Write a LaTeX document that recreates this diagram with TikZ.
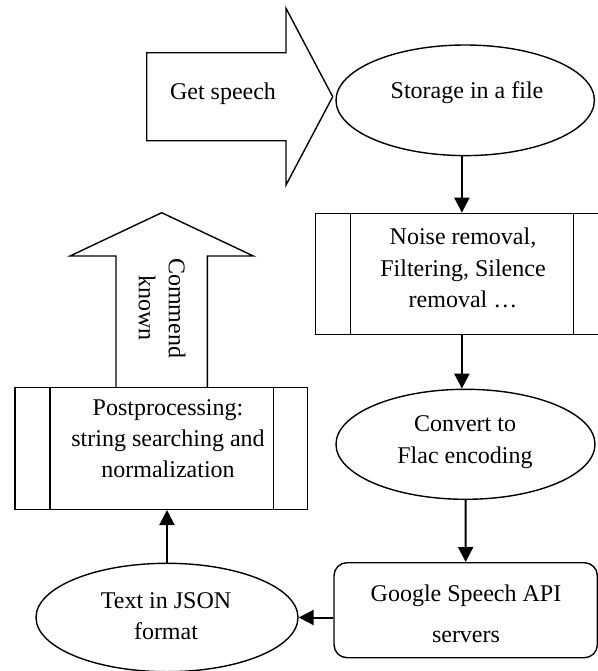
\documentclass[tikz,border=0pt]{standalone}
\usepackage{fontspec}
\setmainfont{Liberation Serif}
\usepackage{tikz}
\usetikzlibrary{shapes.geometric, arrows.meta}

\begin{document}
\begin{tikzpicture}[x=0.5pt, y=-0.5pt,
	ellipsenode/.style={ellipse, draw=black, line width=0.7pt, inner sep=0pt},
	procnode/.style={rectangle, draw=black, line width=0.7pt, inner sep=0pt},
	roundboxnode/.style={rectangle, rounded corners=6.5pt, draw=black, line width=0.7pt, inner sep=0pt},
	textnode/.style={align=center, font=\fontsize{12}{15.7}\selectfont, inner sep=0pt},
	bigarrow/.style={draw=black, line width=0.7pt, line join=miter},
	flowarrow/.style={line width=1pt, -{Triangle[length=7.5pt, width=7.5pt]}},
	]
	\useasboundingbox (0,0) rectangle (598,671);
	% Nodes
	\node[ellipsenode, minimum width=129.2pt, minimum height=55.3pt]		(storage_file)		at (465.2, 100.3)	{};
	\node[procnode, minimum width=146.2pt, minimum height=60.7pt]			(noise_box)			at (461.9, 274)		{};
	\node[ellipsenode, minimum width=129.5pt, minimum height=55pt]			(convert_flac)		at (465.5, 444.3)	{};
	\node[roundboxnode, minimum width=131.7pt, minimum height=47.5pt]		(google_api)		at (465.7, 610.2)	{};
	\node[ellipsenode, minimum width=131pt, minimum height=54.2pt]			(json_text)			at (167, 617.5)		{};
	\node[procnode, minimum width=146.3pt, minimum height=61pt]			(post_box)			at (161.4, 448.3)	{};

	% Texts
	\node[textnode]					(get_speech_txt)	at (223, 94)		{Get speech};
	\node[textnode]					(storage_txt)		at (467, 93)		{Storage in a file};
	\node[textnode]					(noise_txt)			at (463, 268)		{Noise removal,\\Filtering, Silence\\removal …};
	\node[textnode]					(convert_txt)		at (465, 442)		{Convert to\\Flac encoding};
	\node[textnode]					(google_txt)		at (466, 613.5)		{Google Speech API\\[5pt]servers};
	\node[textnode]					(json_txt)			at (166, 616)		{Text in JSON\\format};
	\node[textnode]					(post_txt)			at (168, 438.7)		{Postprocessing:\\string searching and\\normalization};
	\node[textnode, rotate=-90, font=\fontsize{12}{15}\selectfont]	(commend_txt)	at (162, 308)	{Commend\\known};

	% Block arrows
	\draw[bigarrow] (146.7, 52.7) -- (286, 52.7) -- (286, 8.3) -- (332.7, 96.7) -- (286, 185) -- (286, 140.7) -- (146.7, 140.7) -- cycle;
	\draw[bigarrow] (116, 387.3) -- (116, 256) -- (70, 256) -- (161.7, 212.7) -- (253.3, 256) -- (207.3, 256) -- (207.3, 387.3);

	% Inner lines of the process boxes
	\draw[line width=0.7pt] ([xshift=17.6pt]noise_box.north west) -- ([xshift=17.6pt]noise_box.south west);
	\draw[line width=0.7pt] ([xshift=-17.6pt]noise_box.north east) -- ([xshift=-17.6pt]noise_box.south east);
	\draw[line width=0.7pt] ([xshift=17.7pt]post_box.north west) -- ([xshift=17.7pt]post_box.south west);
	\draw[line width=0.7pt] ([xshift=-17.5pt]post_box.north east) -- ([xshift=-17.5pt]post_box.south east);

	% Lines
	\draw[flowarrow] (noise_box.north |- storage_file.south)	--	(noise_box.north);
	\draw[flowarrow] (noise_box.south)						--	(noise_box.south |- convert_flac.north);
	\draw[flowarrow] (convert_flac.south)					--	(google_api.north);
	\draw[flowarrow] (google_api.west |- json_text.east)		--	(json_text.east);
	\draw[flowarrow] (json_text.north)						--	(json_text.north |- post_box.south);
\end{tikzpicture}
\end{document}
